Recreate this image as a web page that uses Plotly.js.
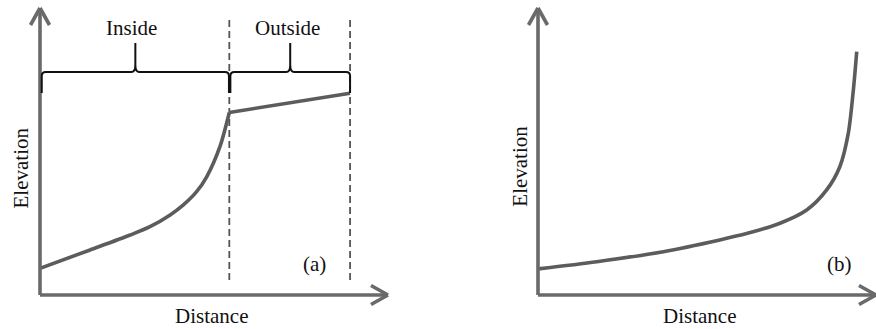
<!DOCTYPE html>
<html><head><meta charset="utf-8">
<script src="https://cdn.plot.ly/plotly-3.0.1.min.js"></script>
<style>html,body{margin:0;padding:0;background:#fff}</style>
</head><body>
<div id="chart" style="width:876px;height:329px"></div>
<script>
// ---- data (arbitrary units, 0-100 on each axis) ----
// Panel (a)
const insideDistance  = [0, 14.4, 25.9, 31.6, 37.4, 41.2, 45.0, 47.9, 51.7, 54.4];
const insideElevation = [9.3, 15.7, 20.9, 23.8, 27.9, 31.4, 36.0, 41.2, 51.7, 63.6];
const outsideDistance  = [54.4, 89.1];
const outsideElevation = [63.6, 70.3];
const zoneNames  = ['Inside', 'Outside'];
const zoneBounds = [0, 54.4, 89.1];
// Panel (b)
const profileBDistance  = [0, 17.4, 37.1, 53.8, 61.7, 71.6, 79.5, 85.4, 89.3, 91.8, 93.3, 94.3];
const profileBElevation = [9.1, 11.6, 15.1, 19.2, 21.4, 25.0, 29.6, 36.6, 44.7, 56.3, 71.4, 84.8];
const panelLabels = ['(a)', '(b)'];
const xTitleText = 'Distance';
const yTitleText = 'Elevation';

// ---- layout helpers ----
const W = 876, H = 329;
const pxX = v => v / W;
const pxY = v => (H - v) / H;
const font = {family: 'Liberation Serif, Times New Roman, serif', size: 21, color: '#111'};
const axisColor = '#6a6a6a', curveColor = '#5c5c5c';

const traces = [
  {x: insideDistance, y: insideElevation, xaxis: 'x', yaxis: 'y', mode: 'lines',
   line: {color: curveColor, width: 3.6, shape: 'spline', smoothing: 0.8}, hoverinfo: 'skip', showlegend: false},
  {x: outsideDistance, y: outsideElevation, xaxis: 'x', yaxis: 'y', mode: 'lines',
   line: {color: curveColor, width: 3.6}, hoverinfo: 'skip', showlegend: false},
  {x: profileBDistance, y: profileBElevation, xaxis: 'x2', yaxis: 'y2', mode: 'lines',
   line: {color: curveColor, width: 3.6, shape: 'spline', smoothing: 0.8}, hoverinfo: 'skip', showlegend: false}
];

const hiddenAxis = {range: [0, 100], showgrid: false, zeroline: false, showline: false,
  showticklabels: false, ticks: '', fixedrange: true};

const shapes = [];
function axisShapes(xr, yr) {
  const ln = {color: axisColor, width: 3.6};
  shapes.push({type: 'line', xref: xr + ' domain', yref: yr + ' domain', x0: 0, x1: 1, y0: 0, y1: 0, line: ln});
  shapes.push({type: 'line', xref: xr + ' domain', yref: yr + ' domain', x0: 0, x1: 0, y0: 0, y1: 1, line: ln});
  [9.5, -9.5].forEach(d => {
    shapes.push({type: 'line', xref: xr + ' domain', yref: yr + ' domain',
      xsizemode: 'pixel', xanchor: 1, x0: 0, x1: -17,
      ysizemode: 'pixel', yanchor: 0, y0: 0, y1: d, line: ln});
    shapes.push({type: 'line', xref: xr + ' domain', yref: yr + ' domain',
      xsizemode: 'pixel', xanchor: 0, x0: 0, x1: d,
      ysizemode: 'pixel', yanchor: 1, y0: 0, y1: -17, line: ln});
  });
}
axisShapes('x', 'y');
axisShapes('x2', 'y2');

// dashed zone boundaries (panel a)
zoneBounds.slice(1).forEach(b => {
  shapes.push({type: 'line', xref: 'x', yref: 'y', x0: b, x1: b, y0: 5.2, y1: 96.9, layer: 'below',
    line: {color: '#555', width: 1.8, dash: '7px,4px'}});
});

// curly braces over each zone
const ux = 3.48, uy = 2.87; // px per unit
function bracePath(a, b) {
  const yMid = 77.7, yLow = 70.4, yTop = 87.8;
  const rx = 4 / ux, ry = 4 / uy, fx = 4 / ux, fy = 7 / uy;
  const c = (a + b) / 2;
  return `M${a},${yLow} L${a},${yMid - ry} Q${a},${yMid} ${a + rx},${yMid} ` +
         `L${c - fx},${yMid} Q${c},${yMid} ${c},${yMid + fy} L${c},${yTop} ` +
         `M${c},${yMid + fy} Q${c},${yMid} ${c + fx},${yMid} ` +
         `L${b - rx},${yMid} Q${b},${yMid} ${b},${yMid - ry} L${b},${yLow}`;
}
for (let i = 0; i < zoneNames.length; i++) {
  const a = zoneBounds[i] + (i === 0 ? 0.5 : 0.3);
  const b = zoneBounds[i + 1] - (i === 0 ? 0.1 : 0);
  shapes.push({type: 'path', xref: 'x', yref: 'y', path: bracePath(a, b),
    fillcolor: 'rgba(0,0,0,0)', line: {color: '#111', width: 2}});
}

const annotations = [];
zoneNames.forEach((name, i) => {
  annotations.push({xref: 'x', yref: 'y', x: (zoneBounds[i] + zoneBounds[i + 1]) / 2, y: 93.0,
    xshift: i === 0 ? -3 : -2, text: name, showarrow: false, font, xanchor: 'center', yanchor: 'middle'});
});
annotations.push({xref: 'x', yref: 'y', x: 79.0, y: 10.7, text: panelLabels[0], showarrow: false, font,
  xanchor: 'center', yanchor: 'middle'});
annotations.push({xref: 'x2', yref: 'y2', x: 89.3, y: 10.8, text: panelLabels[1], showarrow: false, font,
  xanchor: 'center', yanchor: 'middle'});
// axis titles
annotations.push({xref: 'paper', yref: 'paper', x: pxX(211.7), y: pxY(316), text: xTitleText,
  showarrow: false, font, xanchor: 'center', yanchor: 'middle'});
annotations.push({xref: 'paper', yref: 'paper', x: pxX(699.2), y: pxY(316), text: xTitleText,
  showarrow: false, font, xanchor: 'center', yanchor: 'middle'});
annotations.push({xref: 'paper', yref: 'paper', x: pxX(21.2), y: pxY(168.3), text: yTitleText, textangle: -90,
  showarrow: false, font, xanchor: 'center', yanchor: 'middle'});
annotations.push({xref: 'paper', yref: 'paper', x: pxX(519.9), y: pxY(165.8), text: yTitleText, textangle: -90,
  showarrow: false, font, xanchor: 'center', yanchor: 'middle'});

const layout = {
  width: W, height: H,
  margin: {l: 0, r: 0, t: 0, b: 0},
  paper_bgcolor: '#fff', plot_bgcolor: 'rgba(0,0,0,0)',
  showlegend: false,
  xaxis:  Object.assign({}, hiddenAxis, {domain: [pxX(40), pxX(388)], anchor: 'y'}),
  yaxis:  Object.assign({}, hiddenAxis, {domain: [pxY(295), pxY(8)], anchor: 'x'}),
  xaxis2: Object.assign({}, hiddenAxis, {domain: [pxX(538), pxX(876)], anchor: 'y2'}),
  yaxis2: Object.assign({}, hiddenAxis, {domain: [pxY(295), pxY(8)], anchor: 'x2'}),
  shapes, annotations
};

Plotly.newPlot('chart', traces, layout, {displayModeBar: false, staticPlot: true});
</script>
</body></html>
